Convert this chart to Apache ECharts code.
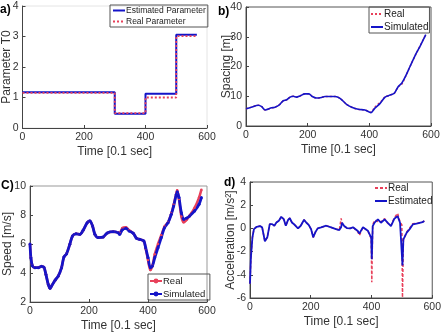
<!DOCTYPE html>
<html><head><meta charset="utf-8">
<script src="https://cdn.jsdelivr.net/npm/echarts@6/dist/echarts.min.js"></script>
<style>html,body{margin:0;padding:0;background:#fff}#c{width:444px;height:336px}</style>
</head><body><div id="c"></div>
<script>
// Panel a: parameter T0
const aTime = [0,300,300,400,400,500,500,567];
const aEst  = [1.17,1.17,0.47,0.47,1.12,1.12,3.06,3.06];
const aReal = [1.15,1.15,0.49,0.49,1.0,1.0,3.01,3.01];
// Panel b: spacing
const bTime = [0,17,40,51,62,83,94,110,121,132,143,153,164,175,191,204,215,229,245,256,289,305,326,343,364,386,405,418,435,451,462,472,481,494,505,516,532,548,564,575,583];
const bSim  = [5.8,6.3,7.0,6.5,5.4,6.1,6.3,7.3,8.5,8.8,9.7,10.0,9.7,10.1,10.8,10.8,9.9,9.4,9.6,9.9,9.9,9.3,7.3,6.3,5.6,5.4,4.5,6.0,7.6,9.7,10.2,10.6,11.0,13.3,14.4,16.4,20.0,23.6,26.7,29.0,30.7];
const bReal = [5.8,6.3,7.0,6.5,5.4,6.1,6.3,7.3,8.5,8.8,9.7,10.0,9.7,10.1,10.8,10.8,9.9,9.4,9.6,9.9,9.9,9.3,7.3,6.3,5.6,5.4,4.6,6.4,7.9,9.8,10.2,10.6,11.0,13.2,14.0,16.3,20.0,23.5,26.8,29.1,30.8];
// Panel c: speed
const cTime = [0,3,8,17,28,39,47,54,62,68,73,85,96,107,115,124,135,144,156,169,180,194,203,212,220,231,248,262,282,299,304,313,325,336,350,361,372,386,392,400,408,415,423,434,445,456,468,479,487,496,499,505,513,521,530,541,558,573,581];
const cSim  = [6.0,5.06,4.5,4.37,4.37,4.46,4.4,3.9,3.2,2.94,3.1,3.5,3.8,4.37,5.1,5.33,5.98,6.55,6.7,6.67,6.94,7.47,7.59,7.24,6.67,6.44,6.48,6.76,6.85,6.78,6.67,6.99,7.08,6.9,6.74,6.4,6.32,6.2,5.75,5.06,4.37,4.48,5.06,5.75,6.44,7.13,7.47,8.05,8.62,9.43,9.6,9.2,8.16,7.7,7.77,7.93,8.28,8.74,9.2];
const cReal = [6.0,5.06,4.5,4.37,4.37,4.46,4.4,3.9,3.2,2.94,3.1,3.5,3.8,4.37,5.1,5.33,5.98,6.55,6.7,6.67,6.94,7.47,7.59,7.24,6.67,6.44,6.48,6.76,6.85,6.8,6.75,7.1,7.15,6.95,6.74,6.4,6.32,6.2,5.7,4.9,4.2,4.5,5.3,6.0,6.6,7.2,7.5,8.1,8.7,9.5,9.7,9.1,7.9,7.5,7.65,7.95,8.5,9.2,9.75];
// Panel d: acceleration
const dTime = [0,3,8,13,22,33,40,49,57,65,73,80,87,95,103,111,118,125,131,138,147,158,167,178,185,193,201,208,215,223,234,251,267,283,294,300,303,310,319,330,339,355,360,372,388,399,401,404,410,421,431,443,453,464,475,486,494,500,502,505,516,525,536,552,568,574];
const dEst  = [-4.77,-2.5,-0.77,-0.06,0.14,0.2,0.09,-1.11,-0.77,0.37,0.37,0.23,0.51,0.66,1.0,0.8,0.23,0.71,0.89,0.51,0.31,0.0,0.23,0.74,0.51,0.31,-0.06,-0.77,-0.34,0.0,0.09,0.23,0.09,-0.06,-0.14,0.1,0.5,0.2,0.03,0.0,0.1,-0.23,-0.45,0.1,-0.2,-0.8,-2.66,0.2,0.49,0.77,0.49,0.77,0.49,0.2,0.83,1.06,0.49,0.34,-3.2,-0.94,-0.37,-0.09,0.34,0.43,0.54,0.63];
const dReal = [-4.77,-2.5,-0.77,-0.06,0.14,0.2,0.09,-1.11,-0.77,0.37,0.37,0.23,0.51,0.66,1.0,0.8,0.23,0.71,0.89,0.51,0.31,0.0,0.23,0.74,0.51,0.31,-0.06,-0.77,-0.34,0.0,0.09,0.23,0.09,-0.06,-0.14,0.86,0.4,0.2,0.03,0.0,0.1,-0.3,-0.6,0.1,-0.2,-0.9,-4.65,0.3,0.7,0.6,0.55,0.85,0.45,0.25,0.9,1.3,0.55,0.3,-5.95,-1.0,-0.3,0.0,0.4,0.45,0.55,0.65];
const xTicks = [0,200,400,600];

const pair = (xs, ys) => xs.map((x,i)=>[x, ys[i]]);
const BLUE = '#1414c8', RED = '#e8405a';
const FONT = 'Liberation Sans, Arial, sans-serif';
const grids = [
  {left:22, top:6, width:185, height:122},
  {left:246, top:7, width:185, height:119},
  {left:30, top:186, width:177, height:116},
  {left:250, top:182, width:183, height:116}
];
const yDefs = [
  {min:0,max:4,interval:1,name:'Parameter T0',gap:9.5},
  {min:0,max:40,interval:10,name:'Spacing [m]',gap:13},
  {min:2,max:10,interval:2,name:'Speed [m/s]',gap:16},
  {min:-6,max:4,interval:2,name:'Acceleration [m/s²]',gap:13}
];
const chart = echarts.init(document.getElementById('c'), null, {renderer:'canvas'});
const axLine = {show:true, onZero:false, lineStyle:{color:'#444', width:1}};
const lineLegend = {opacity:0};
const option = {
  animation:false,
  backgroundColor:'#fff',
  grid: grids.map((g,i)=>Object.assign({show:true, borderColor: i===0?'#e4e4e4':(i===1||i===3?'#555':'#999'), borderWidth:1, backgroundColor:'transparent'}, g)),
  xAxis: grids.map((g,i)=>({
    type:'value', gridIndex:i, min:0, max:600, interval:200,
    axisLine:axLine, axisTick:{show:true, inside:true, length:3, lineStyle:{color:'#444'}},
    splitLine:{show:false},
    axisLabel:{color:'#333', fontSize:10.5, fontFamily:FONT, margin:4},
    name:'Time [0.1 sec]', nameLocation:'middle', nameGap:18, nameMoveOverlap:false,
    nameTextStyle:{color:'#333', fontSize:12, fontFamily:FONT}
  })),
  yAxis: yDefs.map((d,i)=>({
    type:'value', gridIndex:i, min:d.min, max:d.max, interval:d.interval,
    axisLine:axLine, axisTick:{show:true, inside:true, length:3, lineStyle:{color:'#444'}},
    splitLine:{show:false},
    axisLabel:{color:'#333', fontSize:10.5, fontFamily:FONT, margin:4},
    name:d.name, nameLocation:'middle', nameGap:d.gap, nameMoveOverlap:false,
    nameTextStyle:{color:'#333', fontSize:12, fontFamily:FONT}
  })),
  legend: [
    {data:['Estimated Parameter','Real Parameter'], left:110, top:5, orient:'vertical', itemGap:2, itemWidth:12, itemHeight:6,
     itemStyle:lineLegend, borderColor:'#555', borderWidth:1, padding:[1,2,1,2], textStyle:{fontSize:8.5, color:'#222', fontFamily:FONT, padding:[0,0,0,-4]}},
    {data:['Real','Simulated'], left:369, top:7, orient:'vertical', itemGap:3, itemWidth:12, itemHeight:6,
     itemStyle:lineLegend, borderColor:'#555', borderWidth:1, padding:[2,1,1,1], textStyle:{fontSize:10, color:'#222', fontFamily:FONT, padding:[0,0,0,-4]}},
    {data:['Real ','Simulated '], left:148, top:274, orient:'vertical', itemGap:3, itemWidth:12, itemHeight:6,
     borderColor:'#555', borderWidth:1, padding:[2,2,1,1], textStyle:{fontSize:9.5, color:'#222', fontFamily:FONT, padding:[0,0,0,-4]}},
    {data:['Real  ','Estimated'], left:373, top:182, orient:'vertical', itemGap:3, itemWidth:12, itemHeight:6,
     itemStyle:lineLegend, padding:[1,1,1,1], textStyle:{fontSize:10, color:'#222', fontFamily:FONT, padding:[0,0,0,-4]}}
  ],
  graphic: [
    {type:'text', left:0, top:4, style:{text:'a)', font:'bold 12px '+FONT, fill:'#000'}},
    {type:'text', left:218, top:6, z:10, style:{text:'b)', font:'bold 12px '+FONT, fill:'#000'}},
    {type:'text', left:1, top:180, style:{text:'C)', font:'bold 12px '+FONT, fill:'#000'}},
    {type:'text', left:224, top:177, style:{text:'d)', font:'bold 12px '+FONT, fill:'#000'}}
  ],
  series: [
    {name:'Estimated Parameter', type:'line', xAxisIndex:0, yAxisIndex:0, data:pair(aTime,aEst), showSymbol:false, symbol:'none', lineStyle:{color:BLUE, width:2}, itemStyle:{color:BLUE}},
    {name:'Real Parameter', type:'line', xAxisIndex:0, yAxisIndex:0, data:pair(aTime,aReal), showSymbol:false, symbol:'none', lineStyle:{color:RED, width:1.8, type:[2,2]}, itemStyle:{color:RED}},
    {name:'Real', type:'line', xAxisIndex:1, yAxisIndex:1, data:pair(bTime,bReal), showSymbol:false, symbol:'none', smooth:0.3, lineStyle:{color:RED, width:1.5, type:[2,2]}, itemStyle:{color:RED}},
    {name:'Simulated', type:'line', xAxisIndex:1, yAxisIndex:1, data:pair(bTime,bSim), showSymbol:false, symbol:'none', smooth:0.3, lineStyle:{color:BLUE, width:1.6}, itemStyle:{color:BLUE}},
    {name:'Real ', type:'line', xAxisIndex:2, yAxisIndex:2, data:pair(cTime,cReal), symbol:'circle', symbolSize:2.5, smooth:0.3, lineStyle:{color:RED, width:2.5}, itemStyle:{color:RED}},
    {name:'Simulated ', type:'line', xAxisIndex:2, yAxisIndex:2, data:pair(cTime,cSim), symbol:'circle', symbolSize:3, smooth:0.3, lineStyle:{color:BLUE, width:2.8}, itemStyle:{color:BLUE}},
    {name:'Real  ', type:'line', xAxisIndex:3, yAxisIndex:3, data:pair(dTime,dReal), showSymbol:false, symbol:'none', lineStyle:{color:RED, width:1.5, type:[3,2]}, itemStyle:{color:RED}},
    {name:'Estimated', type:'line', xAxisIndex:3, yAxisIndex:3, data:pair(dTime,dEst), showSymbol:false, symbol:'none', lineStyle:{color:BLUE, width:1.8}, itemStyle:{color:BLUE}}
  ]
};
chart.setOption(option);
</script></body></html>
